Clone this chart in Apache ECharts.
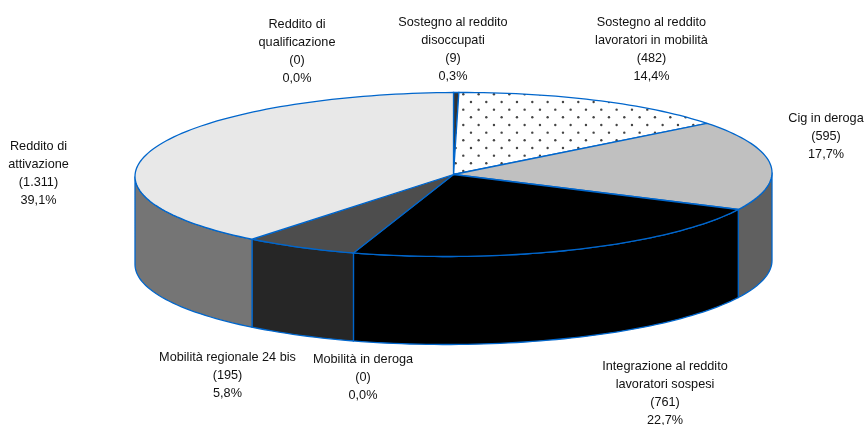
<!DOCTYPE html>
<html>
<head>
<meta charset="utf-8">
<style>html,body{margin:0;padding:0;background:#fff}#c{width:866px;height:425px}</style>
<script src="https://cdn.jsdelivr.net/npm/echarts@6/dist/echarts.min.js"></script>
</head>
<body>
<div id="c"></div>
<script>
// Data, clockwise from 12 o'clock
const categories = [
  'Sostegno al reddito\ndisoccupati',
  'Sostegno al reddito\nlavoratori in mobilità',
  'Cig in deroga',
  'Integrazione al reddito\nlavoratori sospesi',
  'Mobilità in deroga',
  'Mobilità regionale 24 bis',
  'Reddito di\nattivazione',
  'Reddito di\nqualificazione'
];
const values = [9, 482, 595, 761, 0, 195, 1311, 0];
const valueLabels = ['9', '482', '595', '761', '0', '195', '1.311', '0'];

// Styling and layout, separate from the data
const topColors = ['#333333', 'dots', '#c0c0c0', '#000000', '#000000', '#4d4d4d', '#e8e8e8', '#e8e8e8'];
const sideColors = ['#1a1a1a', '#808080', '#606060', '#000000', '#000000', '#262626', '#757575', '#757575'];
const labelAt = [[453, 13.5], [651.5, 13.5], [826, 109], [665, 357], [363, 350], [227.5, 348], [38.5, 137], [297, 15.5]];
const EDGE = '#0066cc';
const GEO = { cx: 453.5, cy: 174.5, rx: 318.5, ry: 82, depth: 88, shear: -0.006 };

const total = values.reduce((a, b) => a + b, 0);
const startAngles = [];
values.reduce((acc, v, i) => { startAngles[i] = acc; return acc + v / total * 360; }, 0);

function pt(deg, drop) {
  const r = deg * Math.PI / 180;
  const x = GEO.cx + GEO.rx * Math.sin(r);
  const y = GEO.cy - GEO.ry * Math.cos(r) + GEO.shear * (x - GEO.cx) + (drop || 0);
  return [x, y];
}
function arc(a0, a1, drop) {
  const n = Math.max(1, Math.ceil((a1 - a0) / 1.5));
  const out = [];
  for (let k = 0; k <= n; k++) out.push(pt(a0 + (a1 - a0) * k / n, drop));
  return out;
}

// Dotted fill tile for the white slice
const tile = document.createElement('canvas');
tile.width = 46; tile.height = 46;
(function () {
  const g = tile.getContext('2d');
  g.fillStyle = '#fff'; g.fillRect(0, 0, 46, 46);
  g.fillStyle = '#444444';
  for (let r = 0; r < 6; r++) for (let c = -1; c < 4; c++) {
    const x = 3.3 + c * 15.33 + (r % 2 ? 7.67 : 0), y = 2.3 + r * 7.67;
    g.beginPath(); g.arc(x, y, 1.2, 0, Math.PI * 2); g.fill();
  }
})();
const fillOf = c => c === 'dots' ? { image: tile, repeat: 'repeat' } : c;

const sliceRows = values.map((v, i) => [i, v, startAngles[i]]);

const option = {
  animation: false,
  backgroundColor: '#ffffff',
  series: [
    { // outer wall, front half only
      type: 'custom', coordinateSystem: 'none', silent: true, z: 1,
      data: sliceRows,
      renderItem(params, api) {
        const i = api.value(0), v = api.value(1), s = api.value(2);
        const a0 = Math.max(s, 90), a1 = Math.min(s + v / total * 360, 270);
        if (v === 0 || a1 <= a0) return { type: 'group', children: [] };
        const pts = arc(a0, a1, 0).concat(arc(a0, a1, GEO.depth).reverse());
        return { type: 'polygon', shape: { points: pts },
          style: { fill: sideColors[i], stroke: EDGE, lineWidth: 1.3 } };
      }
    },
    { // top face
      type: 'custom', coordinateSystem: 'none', silent: true, z: 2,
      data: sliceRows,
      renderItem(params, api) {
        const i = api.value(0), v = api.value(1), s = api.value(2);
        if (v === 0) return { type: 'group', children: [] };
        const pts = [[GEO.cx, GEO.cy]].concat(arc(s, s + v / total * 360, 0));
        return { type: 'polygon', shape: { points: pts },
          style: { fill: fillOf(topColors[i]), stroke: EDGE, lineWidth: 1.3 } };
      }
    },
    { // labels
      type: 'custom', coordinateSystem: 'none', silent: true, z: 3,
      data: sliceRows,
      renderItem(params, api) {
        const i = api.value(0), v = api.value(1);
        const pct = (v / total * 100).toFixed(1).replace('.', ',') + '%';
        return { type: 'text',
          style: { text: categories[i] + '\n(' + valueLabels[i] + ')\n' + pct,
            x: labelAt[i][0], y: labelAt[i][1], textAlign: 'center', textVerticalAlign: 'top',
            font: '12.7px "Liberation Sans", Arial, sans-serif', lineHeight: 18, fill: '#111111' } };
      }
    }
  ]
};
const chart = echarts.init(document.getElementById('c'), null, { renderer: 'canvas' });
chart.setOption(option);
</script>
</body>
</html>
